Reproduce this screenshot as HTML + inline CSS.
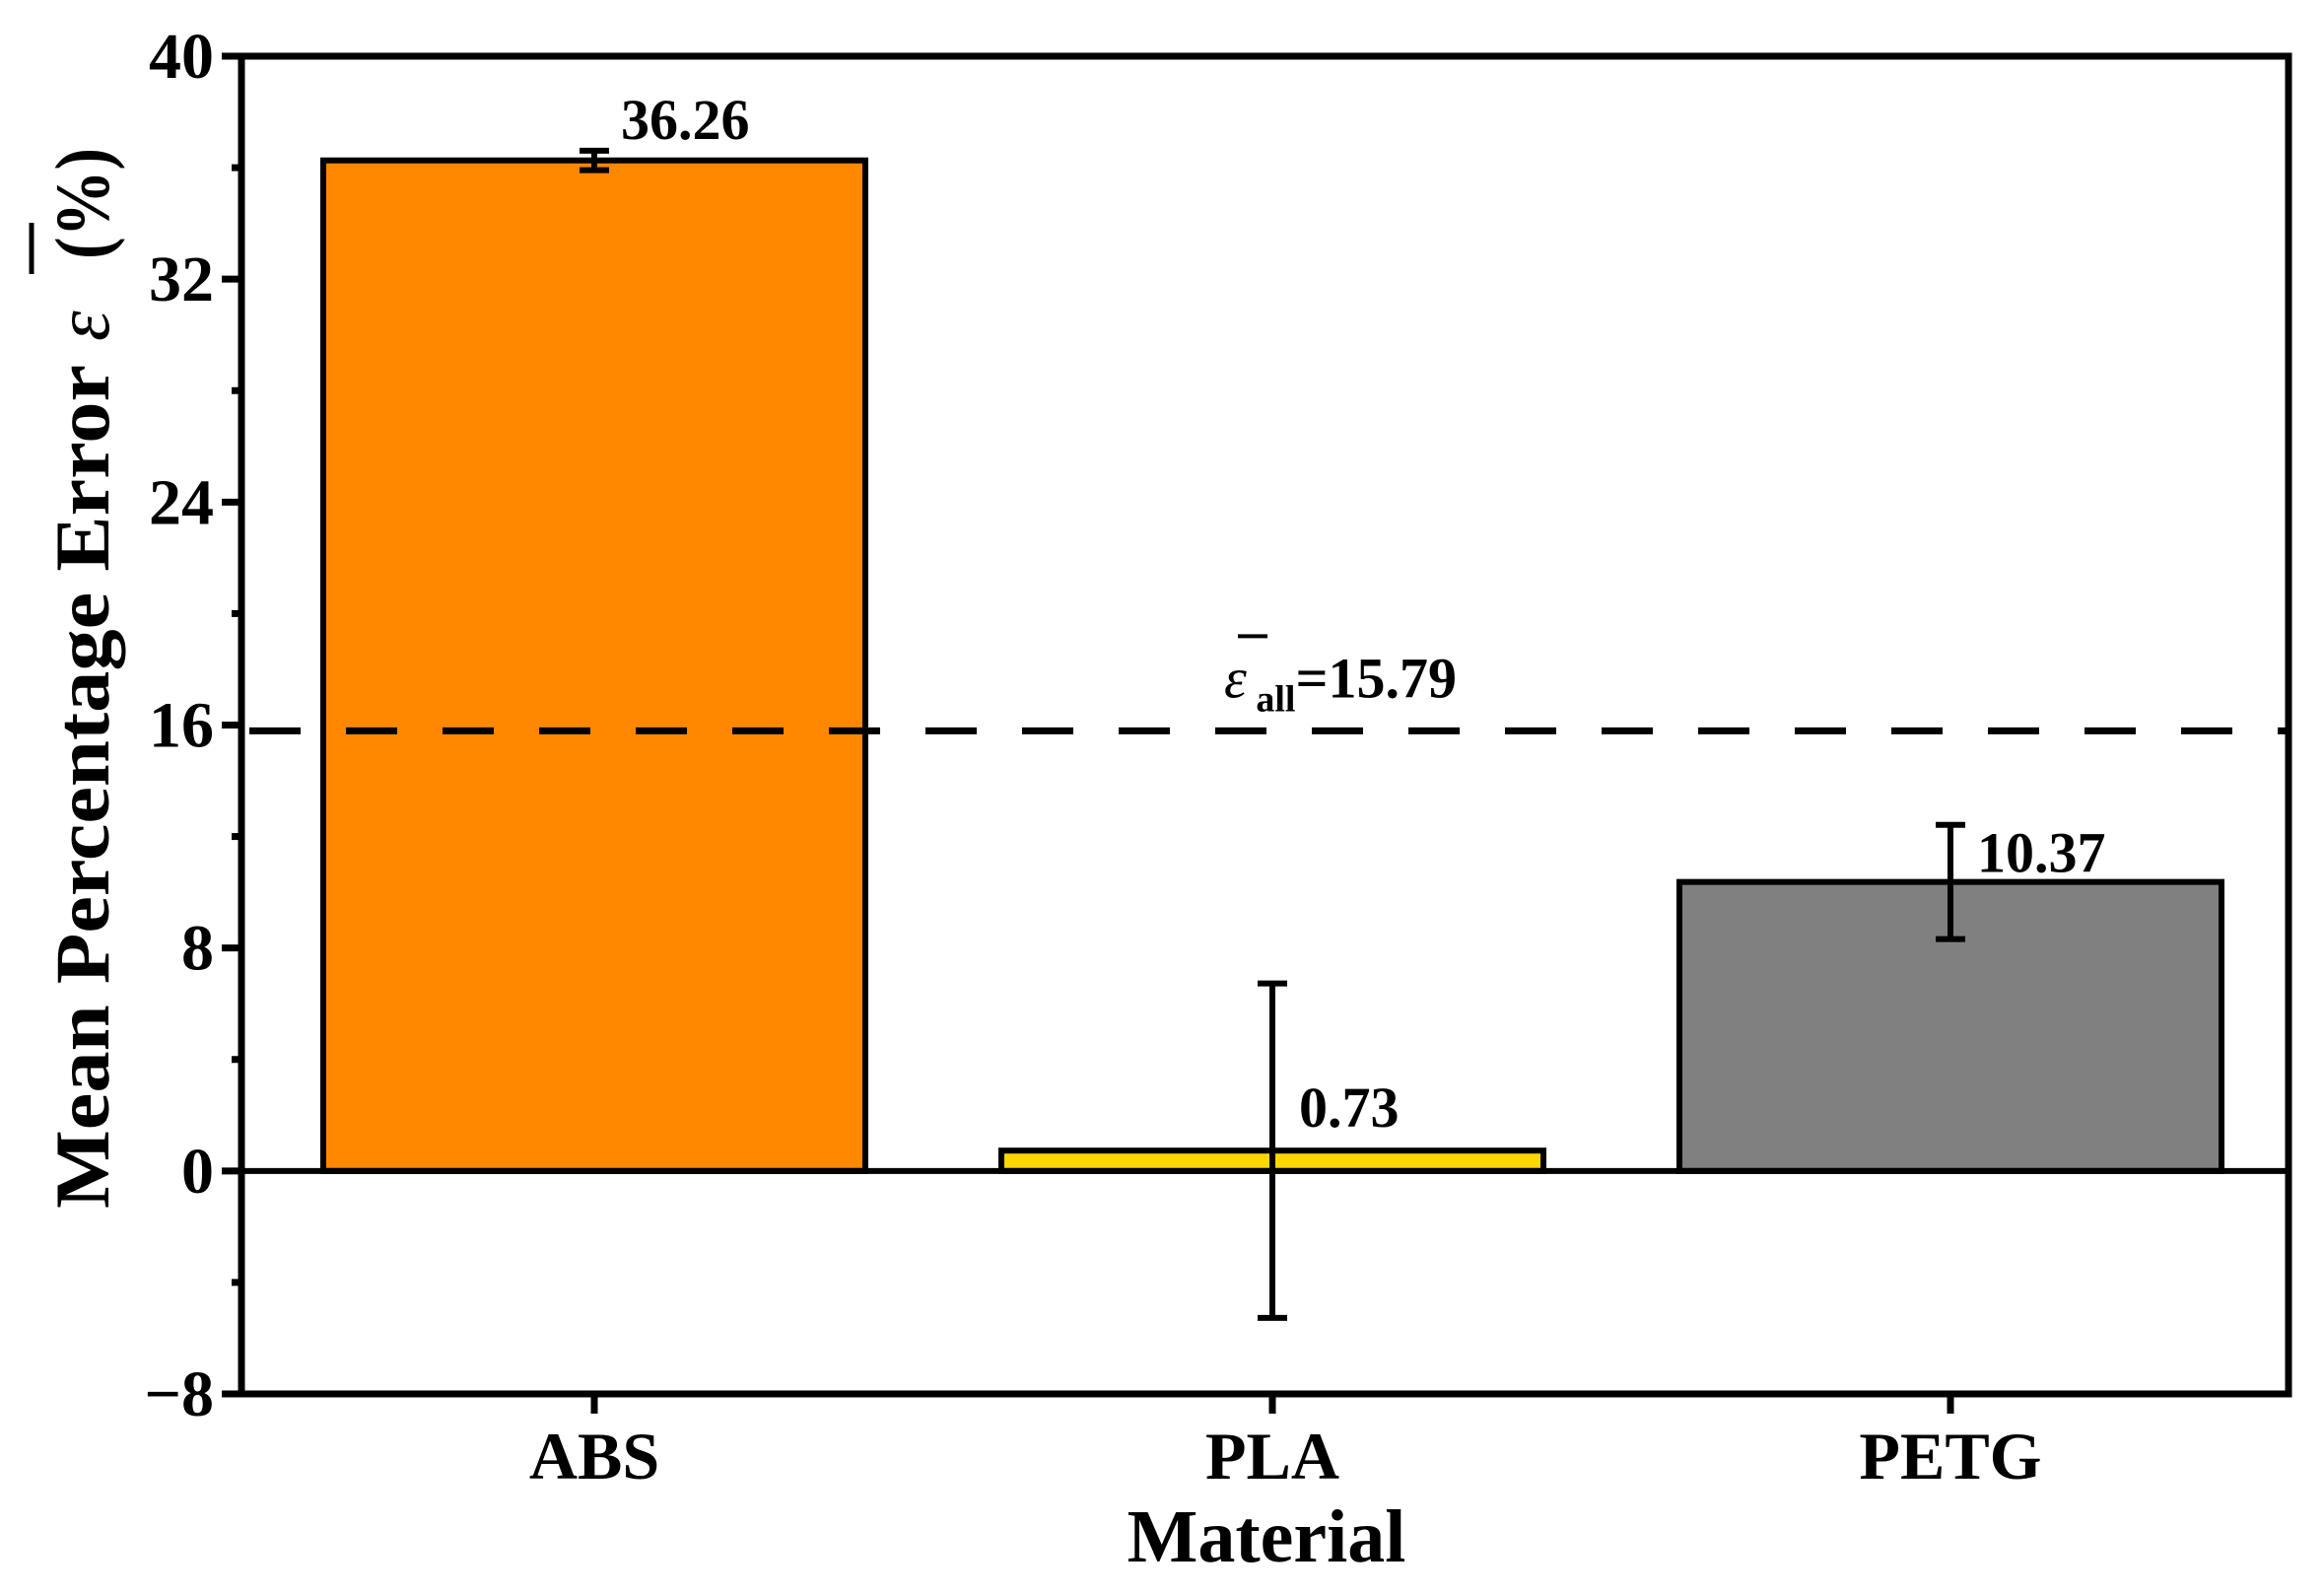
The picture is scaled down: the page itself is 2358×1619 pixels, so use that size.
<!DOCTYPE html>
<html><head><meta charset="utf-8"><style>
html,body{margin:0;padding:0;background:#fff;}
svg text{font-family:"Liberation Serif",serif;font-weight:bold;fill:#000;}
</style></head><body>
<svg id="chart" width="2358" height="1614" viewBox="0 0 2358 1614" xmlns="http://www.w3.org/2000/svg"></svg>
<script>
const categories = ["ABS","PLA","PETG"];
const values = [36.26, 0.73, 10.37];
const errors = [0.35, 6.0, 2.05];
const colors = ["#FF8800","#FFD700","#808080"];
const yTicks = [-8,0,8,16,24,32,40];
const yTickLabels = ["\u22128","0","8","16","24","32","40"];
const meanAll = [15.79];

const NS="http://www.w3.org/2000/svg";
const svg=document.getElementById('chart');
const L=245,R=2322,T=57,B=1414;
const yMin=-8,yMax=40;
function y(v){return B-(v-yMin)/(yMax-yMin)*(B-T);}
const step=688;
function xc(i){return 603+step*i;}
const bw=550;
function mk(tag,attrs,parent){const e=document.createElementNS(NS,tag);for(const k in attrs)e.setAttribute(k,attrs[k]);(parent||svg).appendChild(e);return e;}

categories.forEach((c,i)=>{
  const top=y(Math.max(values[i],0)),bot=y(Math.min(values[i],0));
  const r=mk('rect',{x:xc(i)-bw/2,y:top,width:bw,height:bot-top,fill:colors[i],stroke:'#000','stroke-width':6});
  
  
});
const z=mk('line',{x1:L,x2:R,y1:y(0),y2:y(0),stroke:'#000','stroke-width':6});


const ml=mk('line',{x1:L,x2:R,y1:y(meanAll[0]),y2:y(meanAll[0]),stroke:'#000','stroke-width':7,'stroke-dasharray':'52 46','stroke-dashoffset':'-8'});


const mt=mk('text',{x:1242,y:y(meanAll[0])-34,'font-size':58});


mt.innerHTML='<tspan font-style="italic" font-weight="normal">ε</tspan><tspan font-size="38" dy="14"> all</tspan><tspan dy="-14">='+meanAll[0].toFixed(2)+'</tspan>';
const mob=mk('line',{x1:1256,x2:1286,y1:y(meanAll[0])-96,y2:y(meanAll[0])-96,stroke:'#000','stroke-width':4});



categories.forEach((c,i)=>{
  const g=mk('g',{});
  
  
  const x=xc(i),hi=y(values[i]+errors[i]),lo=y(values[i]-errors[i]);
  mk('line',{x1:x,x2:x,y1:hi,y2:lo,stroke:'#000','stroke-width':6},g);
  mk('line',{x1:x-15,x2:x+15,y1:hi,y2:hi,stroke:'#000','stroke-width':6},g);
  mk('line',{x1:x-15,x2:x+15,y1:lo,y2:lo,stroke:'#000','stroke-width':6},g);
  const ly = i===0 ? hi-12 : (i===1 ? y(values[i])-24 : y(values[i])-10);
  const t=mk('text',{x:x+27,y:ly,'font-size':58});
  t.textContent=values[i].toFixed(2);
  
  
});

const f=mk('rect',{x:L,y:T,width:R-L,height:B-T,fill:'none',stroke:'#000','stroke-width':7});



yTicks.forEach((v,i)=>{
  const tk=mk('line',{x1:L-20,x2:L,y1:y(v),y2:y(v),stroke:'#000','stroke-width':7});
  
  
  const t=mk('text',{x:L-28,y:y(v)+22,'font-size':66,'text-anchor':'end'});
  t.textContent=yTickLabels[i];
  
  
  if(i<yTicks.length-1){
    const m=mk('line',{x1:L-10,x2:L,y1:y(v+4),y2:y(v+4),stroke:'#000','stroke-width':7});
    
    
  }
});
categories.forEach((c,i)=>{
  const tk=mk('line',{x1:xc(i),x2:xc(i),y1:B,y2:B+20,stroke:'#000','stroke-width':7});
  
  
  const t=mk('text',{x:xc(i),y:1500,'font-size':68,'text-anchor':'middle'});
  t.textContent=c;
  
  
});
const xt=mk('text',{x:1285,y:1584,'font-size':76,'text-anchor':'middle'});
xt.textContent='Material';


const yt=mk('text',{x:0,y:0,'font-size':78,transform:'translate(110,1226) rotate(-90)'});
yt.innerHTML='<tspan textLength="856" lengthAdjust="spacingAndGlyphs">Mean Percentage Error</tspan><tspan x="880" font-style="italic" font-weight="normal">ε</tspan><tspan x="963" textLength="113" lengthAdjust="spacingAndGlyphs">(%)</tspan>';


const ob=mk('line',{x1:32,x2:32,y1:226,y2:278,stroke:'#000','stroke-width':5});


</script>
</body></html>
